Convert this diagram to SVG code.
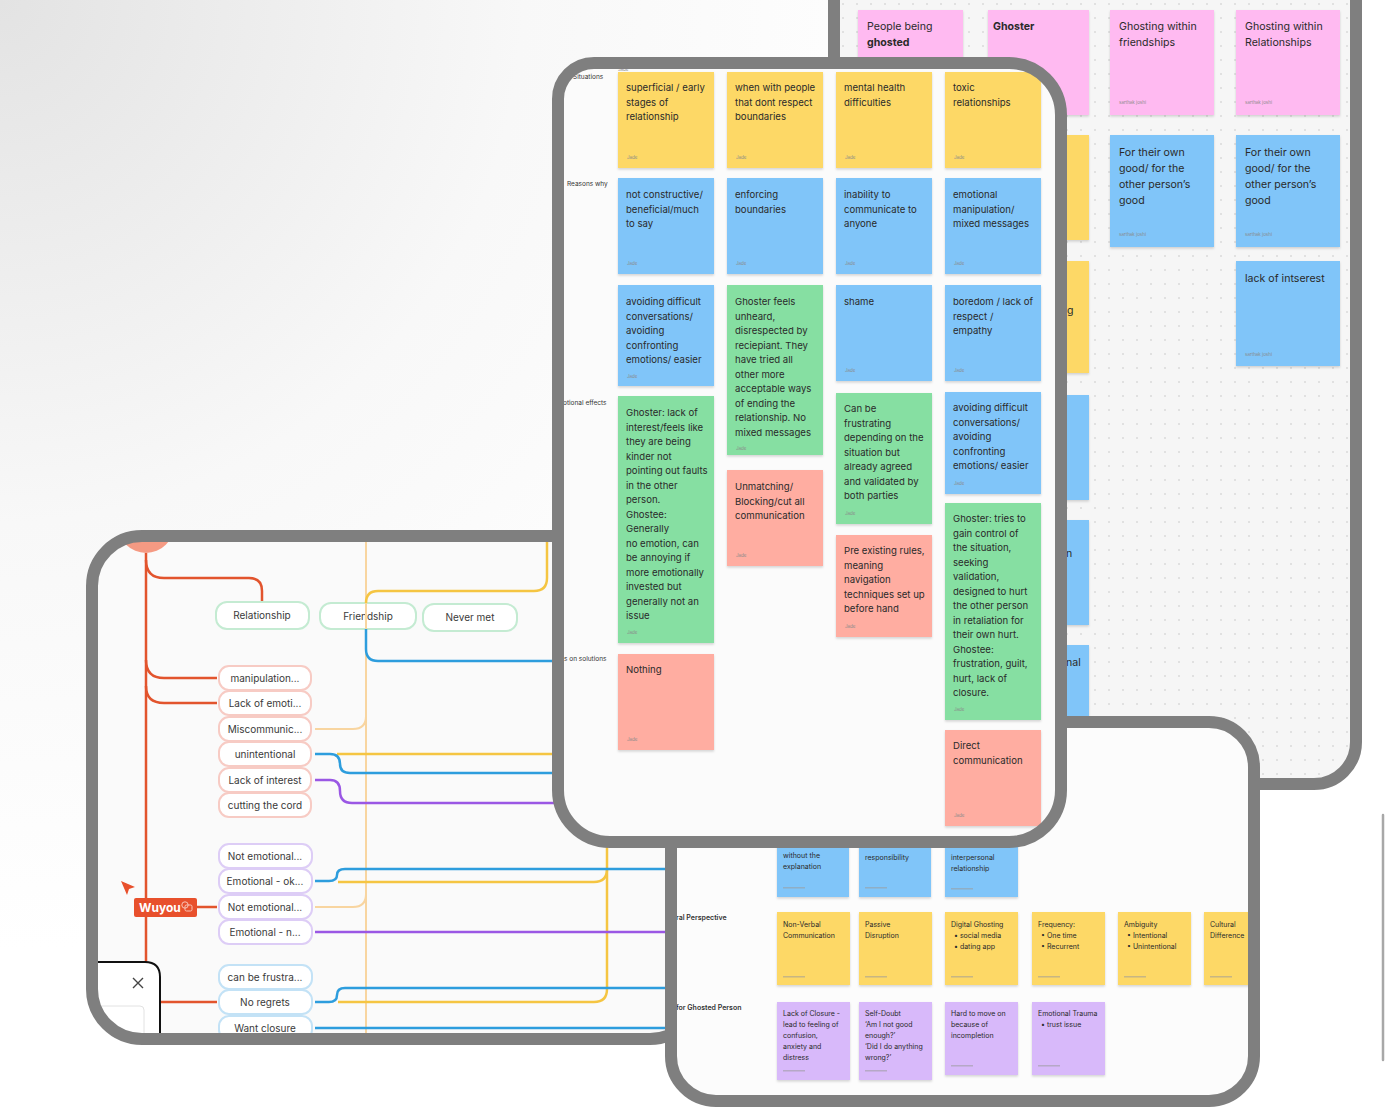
<svg xmlns="http://www.w3.org/2000/svg" width="1386" height="1108" viewBox="0 0 1386 1108">
<defs>
<radialGradient id="bg" cx="0" cy="0" r="950" gradientUnits="userSpaceOnUse">
<stop offset="0" stop-color="#e3e3e3"/><stop offset="0.55" stop-color="#f8f8f8"/><stop offset="1" stop-color="#ffffff"/>
</radialGradient>
<pattern id="dots" x="0" y="0" width="14" height="14" patternUnits="userSpaceOnUse"><circle cx="3" cy="4" r="0.8" fill="#c6c6c6"/></pattern>
<filter id="sh" x="-10%" y="-10%" width="120%" height="125%"><feDropShadow dx="0" dy="1.5" stdDeviation="1.3" flood-color="#000" flood-opacity="0.16"/></filter>
<path id="mShape" d="M594,63 L1009,63 A52,52 0 0 1 1061,115 L1061,790 A52,52 0 0 1 1009,842 L610,842 A52,52 0 0 1 558,790 L558,99 A36,36 0 0 1 594,63 Z"/>
<clipPath id="cTR"><rect x="834" y="-60" width="522" height="844" rx="42"/></clipPath>
<clipPath id="cL"><rect x="92" y="536" width="608" height="503" rx="50"/></clipPath>
<clipPath id="cBR"><rect x="671" y="722" width="583" height="379" rx="45"/></clipPath>
<clipPath id="cM"><use href="#mShape"/></clipPath>
</defs>
<style>
.fr{fill:none;stroke:#7f7f7f;stroke-width:12}
text{font-family:Inter,"Liberation Sans",sans-serif}
.t{font-size:9.6px;fill:#2a2a2a}
.tl{font-size:10.6px;fill:#2a2a2a}
.ts{font-size:7px;fill:#2a2a2a}
.au{font-size:4.5px;fill:#8a8a8a}
.lb{font-size:6.5px;fill:#333}
.lbb{font-size:7px;fill:#333;font-weight:600}
.n{font-size:10px;fill:#3a3a3a;text-anchor:middle}
.y{fill:#fdd866;filter:url(#sh)}
.b{fill:#80c5f9;filter:url(#sh)}
.g{fill:#86dfa2;filter:url(#sh)}
.r{fill:#ffada1;filter:url(#sh)}
.p{fill:#ffbaf1;filter:url(#sh)}
.v{fill:#d8b9fa;filter:url(#sh)}
.al{fill:#9a9a9a;opacity:.55}
.ng{fill:#fff;stroke:#c4ebd2;stroke-width:2}
.nr{fill:#fff;stroke:#f7cbc4;stroke-width:2}
.nv{fill:#fff;stroke:#ddcdf6;stroke-width:2}
.nb{fill:#fff;stroke:#c3e2f6;stroke-width:2}
.cr{fill:none;stroke:#e2542d;stroke-width:2.5}
.co{fill:none;stroke:#f8d5a0;stroke-width:2}
.cy{fill:none;stroke:#f5c542;stroke-width:2.5}
.cb{fill:none;stroke:#2d9ddd;stroke-width:2.5}
.cp{fill:none;stroke:#9a57e4;stroke-width:2.5}
</style>
<rect x="0" y="0" width="1386" height="1108" fill="url(#bg)"/>

<!-- Top-right tablet -->
<g id="tablet-top-right">
<rect x="834" y="-60" width="522" height="844" rx="42" fill="#f6f6f6"/>
<g clip-path="url(#cTR)">
<rect x="834" y="-60" width="522" height="844" fill="url(#dots)"/>
<g id="tr-people-ghosted"><rect class="p" x="858" y="10" width="105" height="105"/><text class="tl" x="867" y="30"><tspan x="867">People being</tspan><tspan x="867" dy="16" font-weight="700">ghosted</tspan></text></g>
<g id="tr-ghoster"><rect class="p" x="988" y="10" width="101" height="105"/><text class="tl" x="993" y="30" font-weight="700">Ghoster</text></g>
<g id="tr-friendships"><rect class="p" x="1110" y="10" width="104" height="105"/><text class="tl" x="1119" y="30"><tspan x="1119">Ghosting within</tspan><tspan x="1119" dy="16">friendships</tspan></text><text class="au" x="1119" y="104">sarthak joshi</text></g>
<g id="tr-relationships"><rect class="p" x="1236" y="10" width="104" height="105"/><text class="tl" x="1245" y="30"><tspan x="1245">Ghosting within</tspan><tspan x="1245" dy="16">Relationships</tspan></text><text class="au" x="1245" y="104">sarthak joshi</text></g>
<rect class="y" x="988" y="135" width="101" height="105"/>
<g id="tr-own-good-1"><rect class="b" x="1110" y="135" width="104" height="112"/><text class="tl" x="1119" y="156"><tspan x="1119">For their own</tspan><tspan x="1119" dy="16">good/ for the</tspan><tspan x="1119" dy="16">other person’s</tspan><tspan x="1119" dy="16">good</tspan></text><text class="au" x="1119" y="236">sarthak joshi</text></g>
<g id="tr-own-good-2"><rect class="b" x="1236" y="135" width="104" height="112"/><text class="tl" x="1245" y="156"><tspan x="1245">For their own</tspan><tspan x="1245" dy="16">good/ for the</tspan><tspan x="1245" dy="16">other person’s</tspan><tspan x="1245" dy="16">good</tspan></text><text class="au" x="1245" y="236">sarthak joshi</text></g>
<rect class="y" x="988" y="261" width="101" height="112"/><text class="tl" x="1067" y="314">g</text>
<g id="tr-lack-interest"><rect class="b" x="1236" y="261" width="104" height="105"/><text class="tl" x="1245" y="282">lack of intserest</text><text class="au" x="1245" y="356">sarthak joshi</text></g>
<rect class="b" x="988" y="395" width="101" height="105"/>
<rect class="b" x="988" y="520" width="101" height="105"/><text class="tl" x="1066" y="557">n</text>
<rect class="b" x="988" y="645" width="101" height="105"/><text class="tl" x="1066" y="666">nal</text>
</g>
<rect class="fr" x="834" y="-60" width="522" height="844" rx="42"/>
</g>

<!-- Left tablet (mind map) -->
<g id="tablet-left">
<rect x="92" y="536" width="608" height="503" rx="50" fill="#fafafa"/>
<g clip-path="url(#cL)">
<circle cx="146" cy="525" r="28" fill="#f59a83"/>
<g id="node-relationship"><rect class="ng" x="216" y="602" width="93" height="27" rx="11"/><text class="n" x="262" y="619">Relationship</text></g>
<g id="node-friendship"><rect class="ng" x="320" y="603" width="96" height="26" rx="11"/><text class="n" x="368" y="620">Friendship</text></g>
<g id="node-never-met"><rect class="ng" x="423" y="604" width="94" height="27" rx="11"/><text class="n" x="470" y="621">Never met</text></g>
<g id="node-manipulation"><rect class="nr" x="219" y="666" width="92" height="24" rx="10"/><text class="n" x="265" y="682">manipulation...</text></g>
<g id="node-lack-emoti"><rect class="nr" x="219" y="691" width="92" height="24" rx="10"/><text class="n" x="265" y="707">Lack of emoti...</text></g>
<g id="node-miscommunic"><rect class="nr" x="219" y="717" width="92" height="24" rx="10"/><text class="n" x="265" y="733">Miscommunic...</text></g>
<g id="node-unintentional"><rect class="nr" x="219" y="742" width="92" height="24" rx="10"/><text class="n" x="265" y="758">unintentional</text></g>
<g id="node-lack-interest"><rect class="nr" x="219" y="768" width="92" height="24" rx="10"/><text class="n" x="265" y="784">Lack of interest</text></g>
<g id="node-cutting-cord"><rect class="nr" x="219" y="793" width="92" height="24" rx="10"/><text class="n" x="265" y="809">cutting the cord</text></g>
<g id="node-not-emotional-1"><rect class="nv" x="219" y="844" width="93" height="24" rx="10"/><text class="n" x="265" y="860">Not emotional...</text></g>
<g id="node-emotional-ok"><rect class="nv" x="219" y="869" width="93" height="24" rx="10"/><text class="n" x="265" y="885">Emotional - ok...</text></g>
<g id="node-not-emotional-2"><rect class="nv" x="219" y="895" width="93" height="24" rx="10"/><text class="n" x="265" y="911">Not emotional...</text></g>
<g id="node-emotional-n"><rect class="nv" x="219" y="920" width="93" height="24" rx="10"/><text class="n" x="265" y="936">Emotional - n...</text></g>
<g id="node-can-be-frustra"><rect class="nb" x="219" y="965" width="93" height="24" rx="10"/><text class="n" x="265" y="981">can be frustra...</text></g>
<g id="node-no-regrets"><rect class="nb" x="219" y="990" width="93" height="24" rx="10"/><text class="n" x="265" y="1006">No regrets</text></g>
<g id="node-want-closure"><rect class="nb" x="219" y="1016" width="93" height="24" rx="10"/><text class="n" x="265" y="1032">Want closure</text></g>
<g id="connectors">
<path class="cr" d="M146,553 L146,970"/>
<path class="cr" d="M146,560 Q146,578 164,578 L249,578 Q262,578 262,591 L262,601"/>
<path class="cr" d="M146,660 Q146,678 164,678 L217,678"/>
<path class="cr" d="M146,686 Q146,703 164,703 L217,703"/>
<path class="cr" d="M197,907 L217,907"/>
<path class="cr" d="M158,1002 L217,1002"/>
<path class="co" d="M366,542 L366,1045"/>
<path class="co" d="M315,729 L353,729 Q366,729 366,716"/>
<path class="co" d="M315,907 L353,907 Q366,907 366,894"/>
<path class="cy" d="M366,603 Q366,591 378,591 L534,591 Q547,591 547,578 L547,540"/>
<path class="cy" d="M337,754 L560,754"/>
<path class="cy" d="M338,882 L594,882 Q607,882 607,869 L607,845"/>
<path class="cy" d="M607,869 L607,989 Q607,1002 594,1002 L338,1002"/>
<path class="cb" d="M366,629 L366,649 Q366,661 378,661 L560,661"/>
<path class="cb" d="M315,754 L330,754 Q340,754 340,764 Q340,773 350,773 L560,773"/>
<path class="cb" d="M315,881 L329,881 Q337,881 337,875 Q337,869 345,869 L680,869"/>
<path class="cb" d="M315,1002 L329,1002 Q337,1002 337,995 Q337,988 345,988 L680,988"/>
<path class="cb" d="M315,1028 L680,1028"/>
<path class="cp" d="M315,780 L330,780 Q340,780 340,791 Q340,803 352,803 L560,803"/>
<path class="cp" d="M315,932 L680,932"/>
</g>
<g id="wuyou-label">
<path d="M121,881 L135,887 L129,889 L127,895 Z" fill="#e8502c"/>
<rect x="134" y="898" width="63" height="19" rx="2" fill="#e8502c"/>
<text x="139" y="912" font-size="12" font-weight="700" fill="#fff">Wuyou</text>
<circle cx="185" cy="905" r="3.2" fill="none" stroke="#f8c4b6" stroke-width="1"/>
<rect x="185" y="905" width="7" height="6" rx="1.5" fill="none" stroke="#f8c4b6" stroke-width="1"/>
</g>
<g id="popup">
<path d="M80,962 L145,962 Q160,962 160,977 L160,1050 L80,1050 Z" fill="#fff" stroke="#111" stroke-width="2"/>
<path d="M133,978 L143,988 M143,978 L133,988" stroke="#444" stroke-width="1.4"/>
<rect x="88" y="1006" width="56" height="50" rx="4" fill="#fff" stroke="#e2e2e2" stroke-width="1"/>
<text x="106" y="1032" font-size="11" font-weight="700" fill="#222">as</text>
</g>
</g>
<rect class="fr" x="92" y="536" width="608" height="503" rx="50"/>
</g>

<!-- Bottom-right tablet -->
<g id="tablet-bottom-right">
<rect x="671" y="722" width="583" height="379" rx="45" fill="#fcfcfc"/>
<g clip-path="url(#cBR)">
<text class="lbb" x="676" y="920">ral Perspective</text>
<text class="lbb" x="676" y="1010">for Ghosted Person</text>
<g id="br-without-explanation"><rect class="b" x="777" y="800" width="72" height="97"/><text class="ts" x="783" y="858"><tspan x="783">without the</tspan><tspan x="783" dy="11">explanation</tspan></text><rect class="al" x="783" y="887" width="22" height="1.5"/></g>
<g id="br-responsibility"><rect class="b" x="859" y="800" width="72" height="97"/><text class="ts" x="865" y="860">responsibility</text><rect class="al" x="865" y="887" width="22" height="1.5"/></g>
<g id="br-interpersonal"><rect class="b" x="945" y="800" width="73" height="97"/><text class="ts" x="951" y="860"><tspan x="951">interpersonal</tspan><tspan x="951" dy="11">relationship</tspan></text><rect class="al" x="951" y="888" width="22" height="1.5"/></g>
<g id="br-nonverbal"><rect class="y" x="777" y="912" width="73" height="73"/><text class="ts" x="783" y="927"><tspan x="783">Non-Verbal</tspan><tspan x="783" dy="11">Communication</tspan></text><rect class="al" x="783" y="976" width="22" height="1.5"/></g>
<g id="br-passive"><rect class="y" x="859" y="912" width="73" height="73"/><text class="ts" x="865" y="927"><tspan x="865">Passive</tspan><tspan x="865" dy="11">Disruption</tspan></text><rect class="al" x="865" y="976" width="22" height="1.5"/></g>
<g id="br-digital"><rect class="y" x="945" y="912" width="73" height="73"/><text class="ts" x="951" y="927"><tspan x="951">Digital Ghosting</tspan><tspan x="954" dy="11">• social media</tspan><tspan x="954" dy="11">• dating app</tspan></text><rect class="al" x="951" y="976" width="22" height="1.5"/></g>
<g id="br-frequency"><rect class="y" x="1032" y="912" width="73" height="73"/><text class="ts" x="1038" y="927"><tspan x="1038">Frequency:</tspan><tspan x="1041" dy="11">• One time</tspan><tspan x="1041" dy="11">• Recurrent</tspan></text><rect class="al" x="1038" y="976" width="22" height="1.5"/></g>
<g id="br-ambiguity"><rect class="y" x="1118" y="912" width="73" height="73"/><text class="ts" x="1124" y="927"><tspan x="1124">Ambiguity</tspan><tspan x="1127" dy="11">• Intentional</tspan><tspan x="1127" dy="11">• Unintentional</tspan></text><rect class="al" x="1124" y="976" width="22" height="1.5"/></g>
<g id="br-cultural"><rect class="y" x="1204" y="912" width="73" height="73"/><text class="ts" x="1210" y="927"><tspan x="1210">Cultural</tspan><tspan x="1210" dy="11">Difference</tspan></text><rect class="al" x="1210" y="976" width="22" height="1.5"/></g>
<g id="br-closure"><rect class="v" x="777" y="1002" width="73" height="78"/><text class="ts" x="783" y="1016"><tspan x="783">Lack of Closure -</tspan><tspan x="783" dy="11">lead to feeling of</tspan><tspan x="783" dy="11">confusion,</tspan><tspan x="783" dy="11">anxiety and</tspan><tspan x="783" dy="11">distress</tspan></text><rect class="al" x="783" y="1070" width="22" height="1.5"/></g>
<g id="br-selfdoubt"><rect class="v" x="859" y="1002" width="73" height="78"/><text class="ts" x="865" y="1016"><tspan x="865">Self-Doubt</tspan><tspan x="865" dy="11">‘Am I not good</tspan><tspan x="865" dy="11">enough?’</tspan><tspan x="865" dy="11">‘Did I do anything</tspan><tspan x="865" dy="11">wrong?’</tspan></text><rect class="al" x="865" y="1070" width="22" height="1.5"/></g>
<g id="br-hard-move-on"><rect class="v" x="945" y="1002" width="73" height="73"/><text class="ts" x="951" y="1016"><tspan x="951">Hard to move on</tspan><tspan x="951" dy="11">because of</tspan><tspan x="951" dy="11">incompletion</tspan></text><rect class="al" x="951" y="1065" width="22" height="1.5"/></g>
<g id="br-trauma"><rect class="v" x="1032" y="1002" width="73" height="73"/><text class="ts" x="1038" y="1016"><tspan x="1038">Emotional Trauma</tspan><tspan x="1041" dy="11">• trust issue</tspan></text><rect class="al" x="1038" y="1065" width="22" height="1.5"/></g>
</g>
<rect class="fr" x="671" y="722" width="583" height="379" rx="45"/>
</g>

<!-- Middle tablet -->
<g id="tablet-middle">
<use href="#mShape" fill="#fbfbfb"/>
<text class="lb" x="573" y="79">Situations</text>
<text class="lb" x="567" y="186">Reasons why</text>
<text class="lb" x="563" y="405">otional effects</text>
<text class="lb" x="564" y="661">s on solutions</text>
<g clip-path="url(#cM)">
<text class="au" x="618" y="71" font-size="5">Jade</text>

<g id="m-superficial"><rect class="y" x="618" y="72" width="96" height="96"/><text class="t" x="626" y="91"><tspan x="626">superficial / early</tspan><tspan x="626" dy="14.5">stages of</tspan><tspan x="626" dy="14.5">relationship</tspan></text><text class="au" x="627" y="159">Jade</text></g>
<g id="m-boundaries"><rect class="y" x="727" y="72" width="96" height="96"/><text class="t" x="735" y="91"><tspan x="735">when with people</tspan><tspan x="735" dy="14.5">that dont respect</tspan><tspan x="735" dy="14.5">boundaries</tspan></text><text class="au" x="736" y="159">Jade</text></g>
<g id="m-mental"><rect class="y" x="836" y="72" width="96" height="96"/><text class="t" x="844" y="91"><tspan x="844">mental health</tspan><tspan x="844" dy="14.5">difficulties</tspan></text><text class="au" x="845" y="159">Jade</text></g>
<g id="m-toxic"><rect class="y" x="945" y="72" width="96" height="96"/><text class="t" x="953" y="91"><tspan x="953">toxic</tspan><tspan x="953" dy="14.5">relationships</tspan></text><text class="au" x="954" y="159">Jade</text></g>

<g id="m-not-constructive"><rect class="b" x="618" y="178" width="96" height="96"/><text class="t" x="626" y="198"><tspan x="626">not constructive/</tspan><tspan x="626" dy="14.5">beneficial/much</tspan><tspan x="626" dy="14.5">to say</tspan></text><text class="au" x="627" y="265">Jade</text></g>
<g id="m-enforcing"><rect class="b" x="727" y="178" width="96" height="96"/><text class="t" x="735" y="198"><tspan x="735">enforcing</tspan><tspan x="735" dy="14.5">boundaries</tspan></text><text class="au" x="736" y="265">Jade</text></g>
<g id="m-inability"><rect class="b" x="836" y="178" width="96" height="96"/><text class="t" x="844" y="198"><tspan x="844">inability to</tspan><tspan x="844" dy="14.5">communicate to</tspan><tspan x="844" dy="14.5">anyone</tspan></text><text class="au" x="845" y="265">Jade</text></g>
<g id="m-manipulation"><rect class="b" x="945" y="178" width="96" height="96"/><text class="t" x="953" y="198"><tspan x="953">emotional</tspan><tspan x="953" dy="14.5">manipulation/</tspan><tspan x="953" dy="14.5">mixed messages</tspan></text><text class="au" x="954" y="265">Jade</text></g>

<g id="m-avoiding-1"><rect class="b" x="618" y="285" width="96" height="101"/><text class="t" x="626" y="305"><tspan x="626">avoiding difficult</tspan><tspan x="626" dy="14.5">conversations/</tspan><tspan x="626" dy="14.5">avoiding</tspan><tspan x="626" dy="14.5">confronting</tspan><tspan x="626" dy="14.5">emotions/ easier</tspan></text><text class="au" x="627" y="378">Jade</text></g>
<g id="m-unheard"><rect class="g" x="727" y="285" width="96" height="170"/><text class="t" x="735" y="305"><tspan x="735">Ghoster feels</tspan><tspan x="735" dy="14.5">unheard,</tspan><tspan x="735" dy="14.5">disrespected by</tspan><tspan x="735" dy="14.5">reciepiant. They</tspan><tspan x="735" dy="14.5">have tried all</tspan><tspan x="735" dy="14.5">other more</tspan><tspan x="735" dy="14.5">acceptable ways</tspan><tspan x="735" dy="14.5">of ending the</tspan><tspan x="735" dy="14.5">relationship. No</tspan><tspan x="735" dy="14.5">mixed messages</tspan></text><text class="au" x="736" y="450">Jade</text></g>
<g id="m-shame"><rect class="b" x="836" y="285" width="96" height="96"/><text class="t" x="844" y="305">shame</text><text class="au" x="845" y="372">Jade</text></g>
<g id="m-boredom"><rect class="b" x="945" y="285" width="96" height="96"/><text class="t" x="953" y="305"><tspan x="953">boredom / lack of</tspan><tspan x="953" dy="14.5">respect /</tspan><tspan x="953" dy="14.5">empathy</tspan></text><text class="au" x="954" y="372">Jade</text></g>

<g id="m-ghoster-lack"><rect class="g" x="618" y="396" width="96" height="247"/><text class="t" x="626" y="416"><tspan x="626">Ghoster: lack of</tspan><tspan x="626" dy="14.5">interest/feels like</tspan><tspan x="626" dy="14.5">they are being</tspan><tspan x="626" dy="14.5">kinder not</tspan><tspan x="626" dy="14.5">pointing out faults</tspan><tspan x="626" dy="14.5">in the other</tspan><tspan x="626" dy="14.5">person.</tspan><tspan x="626" dy="14.5">Ghostee:</tspan><tspan x="626" dy="14.5">Generally</tspan><tspan x="626" dy="14.5">no emotion, can</tspan><tspan x="626" dy="14.5">be annoying if</tspan><tspan x="626" dy="14.5">more emotionally</tspan><tspan x="626" dy="14.5">invested but</tspan><tspan x="626" dy="14.5">generally not an</tspan><tspan x="626" dy="14.5">issue</tspan></text><text class="au" x="627" y="634">Jade</text></g>
<g id="m-unmatching"><rect class="r" x="727" y="470" width="96" height="96"/><text class="t" x="735" y="490"><tspan x="735">Unmatching/</tspan><tspan x="735" dy="14.5">Blocking/cut all</tspan><tspan x="735" dy="14.5">communication</tspan></text><text class="au" x="736" y="557">Jade</text></g>
<g id="m-frustrating"><rect class="g" x="836" y="393" width="96" height="131"/><text class="t" x="844" y="412"><tspan x="844">Can be</tspan><tspan x="844" dy="14.5">frustrating</tspan><tspan x="844" dy="14.5">depending on the</tspan><tspan x="844" dy="14.5">situation but</tspan><tspan x="844" dy="14.5">already agreed</tspan><tspan x="844" dy="14.5">and validated by</tspan><tspan x="844" dy="14.5">both parties</tspan></text><text class="au" x="845" y="515">Jade</text></g>
<g id="m-rules"><rect class="r" x="836" y="535" width="96" height="102"/><text class="t" x="844" y="554"><tspan x="844">Pre existing rules,</tspan><tspan x="844" dy="14.5">meaning</tspan><tspan x="844" dy="14.5">navigation</tspan><tspan x="844" dy="14.5">techniques set up</tspan><tspan x="844" dy="14.5">before hand</tspan></text><text class="au" x="845" y="628">Jade</text></g>
<g id="m-avoiding-2"><rect class="b" x="945" y="392" width="96" height="102"/><text class="t" x="953" y="411"><tspan x="953">avoiding difficult</tspan><tspan x="953" dy="14.5">conversations/</tspan><tspan x="953" dy="14.5">avoiding</tspan><tspan x="953" dy="14.5">confronting</tspan><tspan x="953" dy="14.5">emotions/ easier</tspan></text><text class="au" x="954" y="485">Jade</text></g>
<g id="m-control"><rect class="g" x="945" y="503" width="96" height="217"/><text class="t" x="953" y="522"><tspan x="953">Ghoster: tries to</tspan><tspan x="953" dy="14.5">gain control of</tspan><tspan x="953" dy="14.5">the situation,</tspan><tspan x="953" dy="14.5">seeking</tspan><tspan x="953" dy="14.5">validation,</tspan><tspan x="953" dy="14.5">designed to hurt</tspan><tspan x="953" dy="14.5">the other person</tspan><tspan x="953" dy="14.5">in retaliation for</tspan><tspan x="953" dy="14.5">their own hurt.</tspan><tspan x="953" dy="14.5">Ghostee:</tspan><tspan x="953" dy="14.5">frustration, guilt,</tspan><tspan x="953" dy="14.5">hurt, lack of</tspan><tspan x="953" dy="14.5">closure.</tspan></text><text class="au" x="954" y="711">Jade</text></g>
<g id="m-direct"><rect class="r" x="945" y="730" width="96" height="96"/><text class="t" x="953" y="749"><tspan x="953">Direct</tspan><tspan x="953" dy="14.5">communication</tspan></text><text class="au" x="954" y="817">Jade</text></g>
<g id="m-nothing"><rect class="r" x="618" y="654" width="96" height="96"/><text class="t" x="626" y="673">Nothing</text><text class="au" x="627" y="741">Jade</text></g>
</g>
<use href="#mShape" class="fr"/>
</g>

<line x1="1383" y1="815" x2="1383" y2="1060" stroke="#a8a8a8" stroke-width="2.5" stroke-linecap="round"/>
</svg>
